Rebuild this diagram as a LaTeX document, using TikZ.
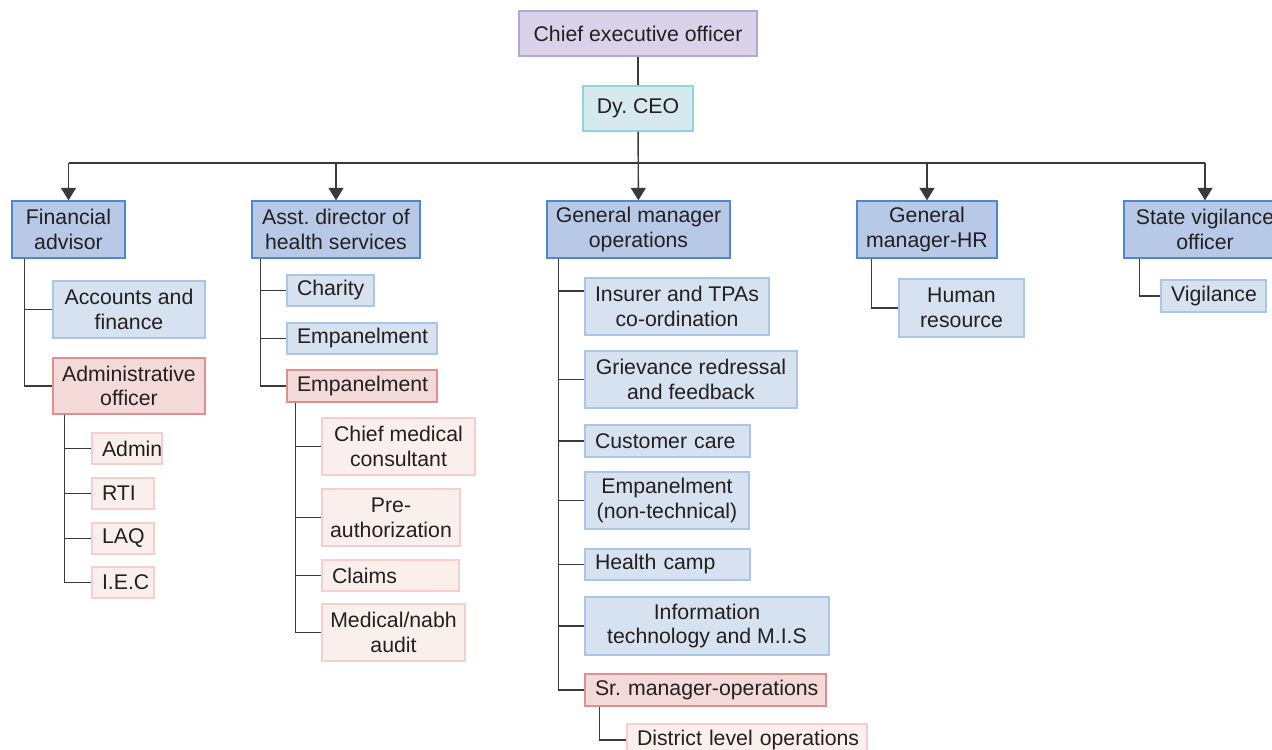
\documentclass[tikz,border=0pt]{standalone}
\usepackage{fontspec}
\setmainfont{Liberation Sans}
\usetikzlibrary{arrows.meta}
\definecolor{txtc}{HTML}{231F20}
\definecolor{lnc}{HTML}{3A3A3A}
\definecolor{ceofill}{HTML}{D9D2E9}
\definecolor{ceodraw}{HTML}{B4A7D6}
\definecolor{dyfill}{HTML}{D6E9EE}
\definecolor{dydraw}{HTML}{8FD3E0}
\definecolor{topfill}{HTML}{B8C9E8}
\definecolor{topdraw}{HTML}{4F88CF}
\definecolor{lbfill}{HTML}{D6E2EF}
\definecolor{lbdraw}{HTML}{A9C6E6}
\definecolor{pkfill}{HTML}{F3D9D7}
\definecolor{pkdraw}{HTML}{E08F8F}
\definecolor{lpfill}{HTML}{FBEFED}
\definecolor{lpdraw}{HTML}{F5CFCB}
\frenchspacing
\newcommand\cbox[7]{%
  \pgfmathsetmacro\mybw{(#4-#2)*0.02}\pgfmathsetmacro\mybh{(#5-#3)*0.02}%
  \node[#6,align=center,inner xsep=0.1cm,minimum width=\mybw cm,minimum height=\mybh cm] (#1) at ({(#2+#4)/2},{(#3+#5)/2}) {#7};}
\newcommand\lbox[7]{%
  \pgfmathsetmacro\mybw{(#4-#2)*0.02}\pgfmathsetmacro\mybh{(#5-#3)*0.02}\pgfmathsetmacro\mytw{(#4-#2-20)*0.02}%
  \node[#6,align=left,text width=\mytw cm,inner xsep=0.2cm,minimum width=\mybw cm,minimum height=\mybh cm] (#1) at ({(#2+#4)/2},{(#3+#5)/2}) {\mbox{#7}};}
\begin{document}
\begin{tikzpicture}[x=0.02cm,y=-0.02cm,
  every node/.style={font=\fontsize{12.1pt}{14pt}\selectfont\frenchspacing,text=txtc,inner ysep=0.05cm,line width=0.75pt},
  ceobox/.style={fill=ceofill,draw=ceodraw},
  dybox/.style={fill=dyfill,draw=dydraw},
  topbox/.style={fill=topfill,draw=topdraw},
  lbbox/.style={fill=lbfill,draw=lbdraw},
  pkbox/.style={fill=pkfill,draw=pkdraw},
  lpbox/.style={fill=lpfill,draw=lpdraw},
  ln/.style={draw=lnc,line width=0.8pt},
  arr/.style={ln,-{Triangle[width=0.3cm,length=0.25cm]}}]
\useasboundingbox (0,0) rectangle (1272,750);
\clip (0,0) rectangle (1272,750);
% top
\cbox{ceo}{519}{11}{757}{56}{ceobox}{Chief executive officer}
\cbox{dy}{583}{86}{693}{131}{dybox}{Dy. CEO}
\cbox{fa}{12}{201}{125}{258}{topbox}{Financial\\advisor}
\cbox{ad}{252}{201}{420}{258}{topbox}{Asst. director of\\health services}
\cbox{gm}{547}{201}{730}{258}{topbox}{General manager\\operations}
\cbox{hr}{857}{201}{997}{258}{topbox}{General\\manager-HR}
\cbox{sv}{1124}{201}{1286}{258}{topbox}{State vigilance\\officer}
% financial advisor branch
\cbox{acc}{53}{281}{205}{338}{lbbox}{Accounts and\\finance}
\cbox{ao}{53}{358}{205}{414}{pkbox}{Administrative\\officer}
\lbox{adm}{92}{433}{162}{464}{lpbox}{Admin}
\lbox{rti}{92}{478}{154}{509}{lpbox}{RTI}
\lbox{laq}{92}{523}{154}{554}{lpbox}{LAQ}
\lbox{iec}{92}{567}{154}{598}{lpbox}{I.E.C}
% asst director branch
\lbox{cha}{287}{275}{374}{306}{lbbox}{Charity}
\lbox{empa}{287}{323}{437}{354}{lbbox}{Empanelment}
\lbox{empb}{287}{370}{437}{402}{pkbox}{Empanelment}
\cbox{cmc}{322}{418}{475}{475}{lpbox}{Chief medical\\consultant}
\cbox{pre}{322}{489}{460}{546}{lpbox}{Pre-\\authorization}
\lbox{clm}{322}{560}{459}{591}{lpbox}{Claims}
\cbox{med}{322}{604}{465}{661}{lpbox}{Medical/nabh\\audit}
% GM operations branch
\cbox{ins}{585}{278}{769}{335}{lbbox}{Insurer and TPAs\\co-ordination}
\cbox{grv}{585}{351}{797}{408}{lbbox}{Grievance redressal\\and feedback}
\lbox{cc}{585}{425}{750}{457}{lbbox}{Customer care}
\cbox{empn}{585}{472}{749}{529}{lbbox}{Empanelment\\(non-technical)}
\lbox{hc}{585}{549}{750}{580}{lbbox}{Health camp}
\cbox{it}{585}{597}{829}{655}{lbbox}{Information\\technology and M.I.S}
\lbox{sr}{585}{674}{826}{706}{pkbox}{Sr. manager-operations}
\lbox{dlo}{627}{724}{867}{756}{lpbox}{District level operations}
% HR, vigilance
\cbox{hrs}{899}{279}{1024}{337}{lbbox}{Human\\resource}
\lbox{vig}{1161}{280}{1266}{312}{lbbox}{Vigilance}
% connectors
\draw[ln] (ceo) -- (dy);
\draw[arr] (dy) -- (gm);
\coordinate (bus) at (638,163);
\draw[ln] (fa.north |- bus) -- (sv.north |- bus);
\foreach \n in {fa,ad,hr,sv} \draw[arr] (\n.north |- bus) -- (\n.north);
\foreach \c in {acc,ao} \draw[ln] (fa.south west) ++(13,0) |- (\c.west);
\foreach \c in {adm,rti,laq,iec} \draw[ln] (ao.south west) ++(12,0) |- (\c.west);
\foreach \c in {cha,empa,empb} \draw[ln] (ad.south west) ++(9,0) |- (\c.west);
\foreach \c in {cmc,pre,clm,med} \draw[ln] (empb.south west) ++(9,0) |- (\c.west);
\draw[ln] (gm.south west) ++(12,0) |- ([yshift=0.31cm]ins.west);
\foreach \c in {grv,cc,empn,hc,it,sr} \draw[ln] (gm.south west) ++(12,0) |- (\c.west);
\draw[ln] (sr.south west) ++(15,0) |- (dlo.west);
\draw[ln] (hr.south west) ++(15,0) |- (hrs.west);
\draw[ln] (sv.south west) ++(16,0) |- (vig.west);
\end{tikzpicture}
\end{document}
